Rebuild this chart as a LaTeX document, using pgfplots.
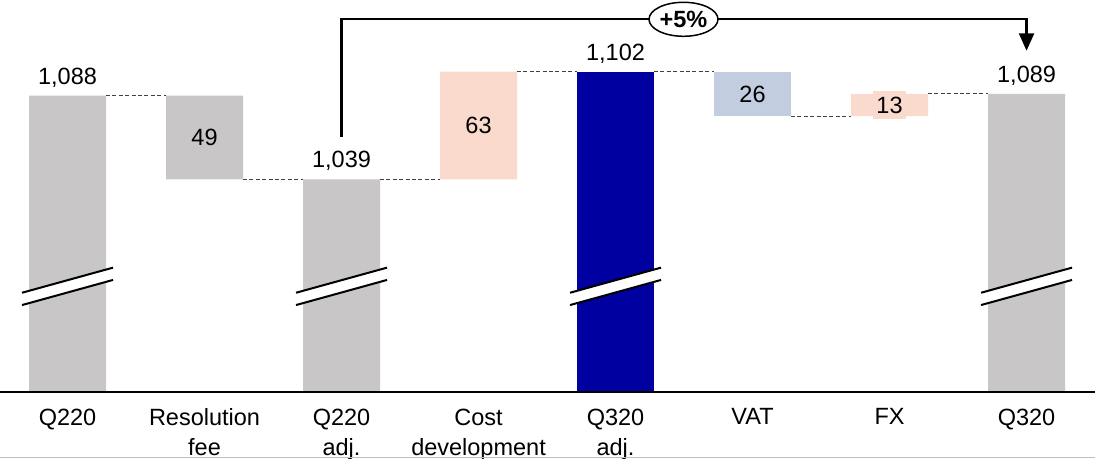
\documentclass[border=0pt]{standalone}
\usepackage{pgfplots}
\pgfplotsset{compat=1.18}
\usepackage{fontspec}
\setmainfont{Liberation Sans}
\usetikzlibrary{arrows.meta,shapes.geometric}

\definecolor{barGray}{RGB}{200,198,199}
\definecolor{barPeach}{RGB}{250,218,204}
\definecolor{barNavy}{RGB}{0,0,160}
\definecolor{barSlate}{RGB}{194,205,224}
\definecolor{linkGray}{RGB}{64,64,64}
\definecolor{ruleGray}{RGB}{190,190,190}

\pgfplotsset{
  wf frame/.style={
    at={(0,0)}, anchor=south west,
    x=68.5pt, y=0.854pt,
    xmin=-0.493, xmax=7.5, ymin=914.2, ymax=1144,
  },
  link/.style={linkGray, line width=0.5pt, dash pattern=on 2pt off 1.2pt},
  brk/.style={black, line width=1pt},
}

\begin{document}
\begin{tikzpicture}[font=\fontsize{11.75}{15}\selectfont]
\path[use as bounding box] (0,-33.25pt) rectangle (547.5pt,196.25pt);

% bars: invisible base + visible segments, stacked
\begin{axis}[wf frame, ybar stacked, bar width=0.562,
  hide y axis, axis x line*=bottom,
  axis line style={black, line width=1pt, -},
  axis on top,
  xtick={0,...,7},
  xticklabels={Q220, Resolution\\fee, Q220\\adj., Cost\\development, Q320\\adj., VAT, FX, Q320},
  major tick length=0pt,
  xticklabel style={align=center, anchor=north, inner sep=0pt, yshift=-7.9pt,
    font=\fontsize{11.75}{15}\selectfont},
]
\addplot[draw=none, fill=none] coordinates {(0,0) (1,1039) (2,0) (3,1039) (4,0) (5,1076) (6,1076) (7,0)};
\addplot[draw=none, fill=barGray] coordinates {(0,1088) (1,49) (2,1039) (3,0) (4,0) (5,0) (6,0) (7,1089)};
\addplot[draw=none, fill=barPeach] coordinates {(0,0) (1,0) (2,0) (3,63) (4,0) (5,0) (6,13) (7,0)};
\addplot[draw=none, fill=barNavy] coordinates {(0,0) (1,0) (2,0) (3,0) (4,1102) (5,0) (6,0) (7,0)};
\addplot[draw=none, fill=barSlate] coordinates {(0,0) (1,0) (2,0) (3,0) (4,0) (5,26) (6,0) (7,0)};
\end{axis}

% connectors, axis breaks and annotations
\begin{axis}[wf frame, hide axis, clip=false]
\addplot[link] coordinates {(0.281,1088) (0.719,1088)};
\addplot[link] coordinates {(1.281,1039) (1.719,1039)};
\addplot[link] coordinates {(2.281,1039) (2.719,1039)};
\addplot[link] coordinates {(3.281,1102) (3.719,1102)};
\addplot[link] coordinates {(4.281,1102) (4.719,1102)};
\addplot[link] coordinates {(5.281,1076) (5.719,1076)};
\addplot[link] coordinates {(6.281,1089) (6.719,1089)};

% broken-axis marks on the total bars
\addplot[fill=white, draw=none] coordinates {(-0.332,972.6) (0.332,987.3) (0.332,980.1) (-0.332,965.4)} -- cycle;
\addplot[brk] coordinates {(-0.332,972.6) (0.332,987.3)};
\addplot[brk] coordinates {(-0.332,965.4) (0.332,980.1)};
\addplot[fill=white, draw=none] coordinates {(1.668,972.6) (2.332,987.3) (2.332,980.1) (1.668,965.4)} -- cycle;
\addplot[brk] coordinates {(1.668,972.6) (2.332,987.3)};
\addplot[brk] coordinates {(1.668,965.4) (2.332,980.1)};
\addplot[fill=white, draw=none] coordinates {(3.668,972.6) (4.332,987.3) (4.332,980.1) (3.668,965.4)} -- cycle;
\addplot[brk] coordinates {(3.668,972.6) (4.332,987.3)};
\addplot[brk] coordinates {(3.668,965.4) (4.332,980.1)};
\addplot[fill=white, draw=none] coordinates {(6.668,972.6) (7.332,987.3) (7.332,980.1) (6.668,965.4)} -- cycle;
\addplot[brk] coordinates {(6.668,972.6) (7.332,987.3)};
\addplot[brk] coordinates {(6.668,965.4) (7.332,980.1)};

% value labels
\node[anchor=base, inner sep=0pt, yshift=5.8pt] at (axis cs:0,1088) {1,088};
\node[anchor=base, inner sep=0pt, yshift=5.8pt] at (axis cs:2,1039) {1,039};
\node[anchor=base, inner sep=0pt, yshift=5.8pt] at (axis cs:4,1102) {1,102};
\node[anchor=base, inner sep=0pt, yshift=5.8pt] at (axis cs:7,1089) {1,089};
\node[inner sep=0pt] at (axis cs:1,1063.5) {49};
\node[inner sep=0pt] at (axis cs:3,1070.5) {63};
\node[inner sep=0pt] at (axis cs:5,1089) {26};
\node[fill=barPeach, inner xsep=1.9pt, inner ysep=3pt] at (axis cs:6,1082.5) {13};

% growth bracket
\draw[line width=1.2pt, -{Triangle[length=8.7pt,width=7.5pt]}]
  (axis cs:2,1064) -- (axis cs:2,1132.7) -- (axis cs:7,1132.7) -- (axis cs:7,1114.3);
\node[ellipse, draw, line width=0.75pt, fill=white, minimum width=34.5pt,
  minimum height=17pt, inner sep=0pt, font=\fontsize{11.75}{15}\selectfont\bfseries]
  at (axis cs:4.496,1132.7) {+5\%};

% thin rule at the foot
\draw[ruleGray, line width=0.6pt] (axis cs:-0.493,876) -- (axis cs:7.5,876);
\end{axis}
\end{tikzpicture}
\end{document}
